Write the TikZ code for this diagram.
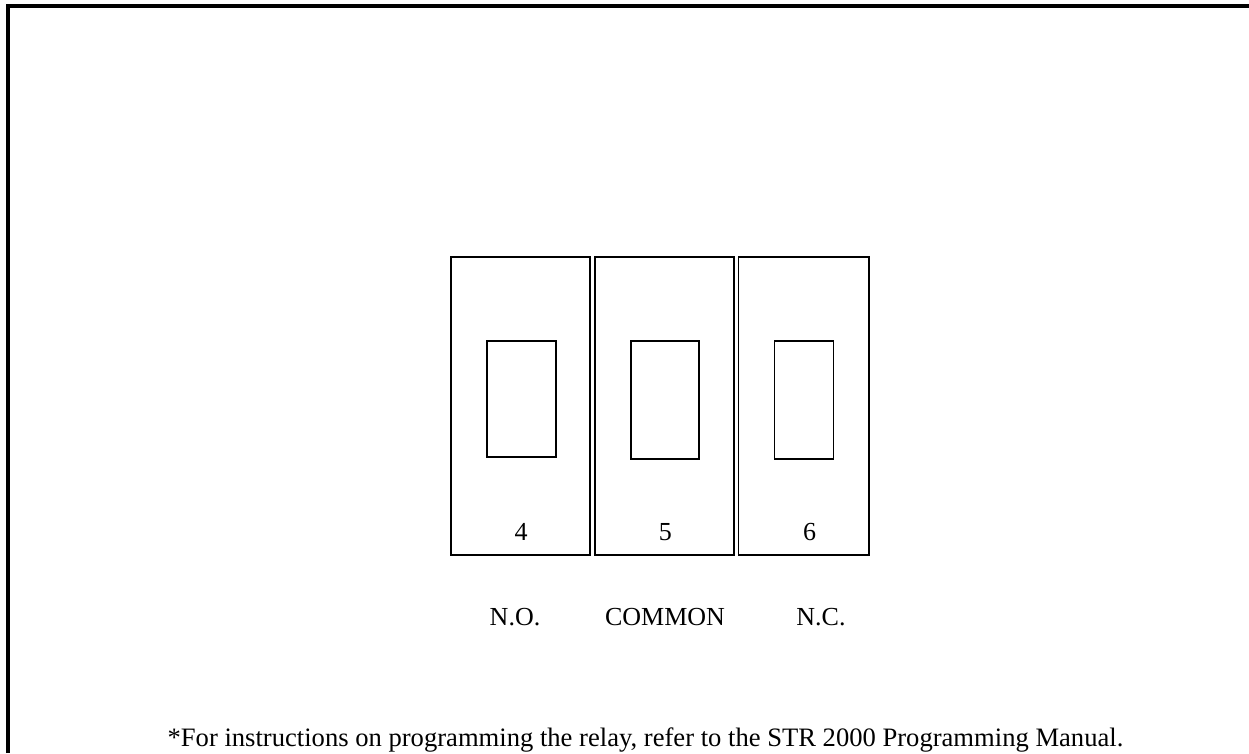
\documentclass[tikz,border=0pt]{standalone}
\usepackage{fontspec}
\setmainfont{Liberation Serif}
\begin{document}
\begin{tikzpicture}[x=1pt,y=-1pt,
  outer/.style={draw,line width=1.6pt},
  inner/.style={draw,line width=1.6pt},
  lbl/.style={anchor=base,inner sep=0pt,font=\fontsize{26}{30}\selectfont},
  foot/.style={anchor=base,inner sep=0pt,font=\fontsize{26.6}{30}\selectfont}]
\useasboundingbox (0,0) rectangle (1249,753);
\draw[line width=4pt] (8,753) -- (8,6) -- (1249,6);
% housings
\draw[outer] (450.7,257) rectangle (590,555);
\draw[outer] (595,257) rectangle (734,555);
\draw[outer] (738.3,257) rectangle (868.7,555);
% terminals
\draw[inner] (486.7,341) rectangle (556,457);
\draw[inner] (630.7,341) rectangle (699,458.7);
\draw[inner] (774.3,341) rectangle (833.3,458.7);
% numbers
\node[lbl] (n4) at (521,540) {4};
\node[lbl] (n5) at (665.3,540) {5};
\node[lbl] (n6) at (809.7,540) {6};
% labels
\node[lbl] (no) at (515,625) {N.O.};
\node[lbl] (com) at (665,625) {COMMON};
\node[lbl] (nc) at (821,625) {N.C.};
\node[foot] (ft) at (645.5,746) {*For instructions on programming the relay, refer to the STR 2000 Programming Manual.};
\end{tikzpicture}
\end{document}
